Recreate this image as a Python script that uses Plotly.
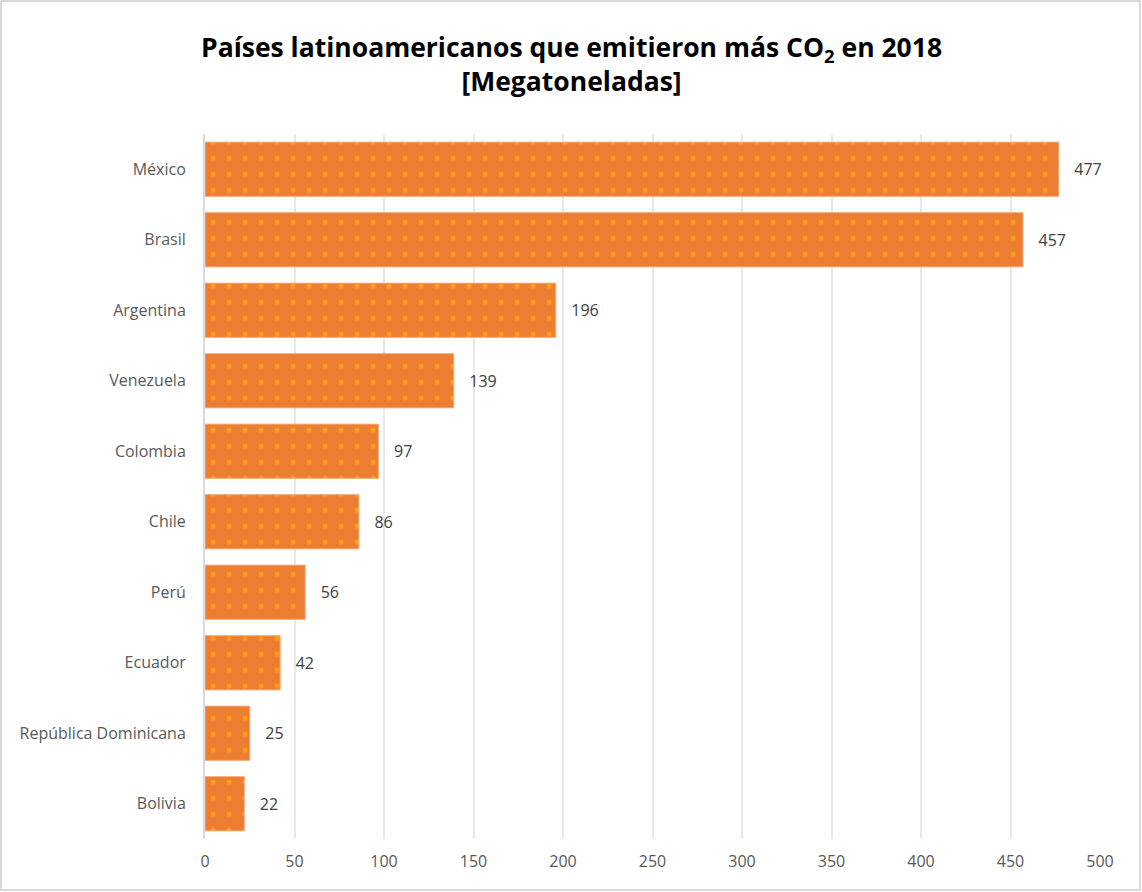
import plotly.graph_objects as go

# datos (Megatoneladas de CO2, 2018)
paises = ["México", "Brasil", "Argentina", "Venezuela", "Colombia", "Chile",
          "Perú", "Ecuador", "República Dominicana", "Bolivia"]
emisiones = [477, 457, 196, 139, 97, 86, 56, 42, 25, 22]
x_ticks = [0, 50, 100, 150, 200, 250, 300, 350, 400, 450, 500]

W, H = 1142, 892
L, R, T, B = 205, 42, 134, 53
pw, ph = W - L - R, H - T - B

fig = go.Figure(go.Bar(
    x=emisiones,
    y=paises,
    orientation="h",
    width=0.77,
    text=["   " + str(v) for v in emisiones],
    textposition="outside",
    textfont=dict(size=16, color="#404040", family="Open Sans"),
    cliponaxis=False,
    marker=dict(
        color="#ED7D31",
        line=dict(color="#F4B183", width=1),
        pattern=dict(shape=".", fgcolor="#FFC000", bgcolor="#ED7D31",
                     size=16, solidity=0.08),
    ),
    hoverinfo="skip",
))

fig.update_layout(
    width=W, height=H,
    margin=dict(l=L, r=R, t=T, b=B, autoexpand=False),
    plot_bgcolor="white",
    paper_bgcolor="white",
    showlegend=False,
    font=dict(family="Open Sans", color="#595959"),
    xaxis=dict(
        range=[0, 500],
        tickvals=x_ticks,
        showgrid=True, gridcolor="#E8E8E8", gridwidth=2,
        zeroline=False,
        showline=False,
        ticks="",
        tickfont=dict(size=16, color="#595959"),
        ticklabelstandoff=11,
        automargin=False,
    ),
    yaxis=dict(
        autorange="reversed",
        showline=True, linecolor="#D9D9D9", linewidth=2,
        showgrid=False,
        ticks="",
        tickfont=dict(size=16, color="#595959"),
        ticklabelstandoff=14,
        automargin=False,
    ),
)

# título (dos líneas, centrado en el gráfico completo)
fig.add_annotation(
    text="<b>Países latinoamericanos que emitieron más CO<sub>2</sub> en 2018<br>[Megatoneladas]</b>",
    xref="paper", yref="paper",
    x=(W / 2 - L) / pw, y=(H - B - 64) / ph,
    xanchor="center", yanchor="middle",
    showarrow=False,
    font=dict(size=26.5, color="black", family="Open Sans"),
)

# borde exterior del gráfico
fig.add_shape(
    type="rect", xref="paper", yref="paper",
    x0=(1 - L) / pw, x1=(W - 2 - L) / pw,
    y0=-(B - 2) / ph, y1=(H - B - 1) / ph,
    line=dict(color="#D9D9D9", width=2),
    fillcolor="rgba(0,0,0,0)",
)

fig.write_html("out.html", config={"displayModeBar": False},
               post_script="document.body.style.margin='0';")
